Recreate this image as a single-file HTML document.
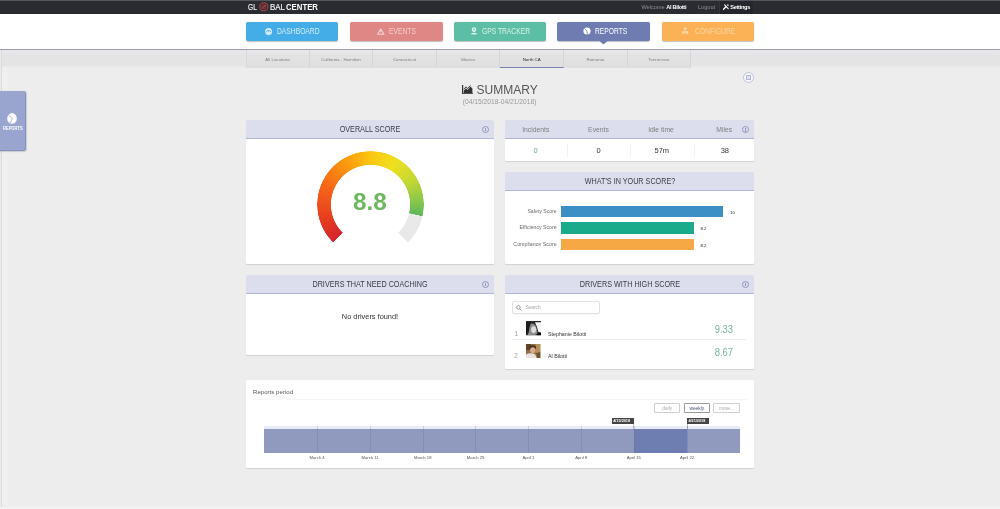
<!DOCTYPE html>
<html>
<head>
<meta charset="utf-8">
<title>Global Center - Summary</title>
<style>
*{box-sizing:border-box;margin:0;padding:0}
html,body{width:1000px;height:509px;overflow:hidden;background:#ededed;font-family:"Liberation Sans",sans-serif;color:#444}
.abs{position:absolute}
#page{position:relative;width:1000px;height:509px;overflow:hidden;background:#ededed;will-change:transform}
.t{position:absolute;white-space:nowrap;line-height:1}
.c{transform:translateX(-50%)}
.r{transform:translateX(-100%)}
/* top bar */
#topbar{left:0;top:0;width:1000px;height:14px;background:#2a2c32;border-top:1px solid #55575c}
#navwrap{left:0;top:14px;width:1000px;height:35px;background:#fff}
#navline{left:0;top:48.5px;width:1000px;height:1px;background:#9d9eb2}
.btn{position:absolute;top:21.5px;height:19.5px;border-radius:2px;box-shadow:0 0.5px 1px rgba(0,0,0,.25)}
.btn .t{top:6px;font-size:8.2px;color:#fff;transform:scaleX(.82);transform-origin:0 50%}
#tabsbar{left:0;top:49.5px;width:1000px;height:17.5px;background:linear-gradient(#e8e8ec,#e5e5e5 25%,#e4e4e4 85%,#e9e9e9)}
.tab{position:absolute;top:49.5px;height:18px;width:63.6px;border-right:1px solid #d6d6d6;background:linear-gradient(#e8e8ea,#e3e3e3 30%,#dfdfdf)}
.tab .t{left:50%;top:8.3px;font-size:4.4px;color:#808080}
/* panels */
.panel{position:absolute;background:#fff;border-radius:1.5px;box-shadow:0 0.5px 1px rgba(0,0,0,.13),0 0 2px rgba(255,255,255,.5)}
.phead{position:absolute;left:0;top:0;right:0;height:19px;background:#dcdeed;border-bottom:1px solid #b0b5d3;border-radius:1.5px 1.5px 0 0}
.phead .t{left:50%;top:5.4px;font-size:8.3px;color:#3b3b45;transform:translateX(-50%) scaleX(.87)}
.info{position:absolute;width:7px;height:7px;border:0.7px solid #9298bd;border-radius:50%}
.info:before{content:"";position:absolute;left:2.3px;top:2.4px;width:0.8px;height:2.4px;background:#9298bd}
.info:after{content:"";position:absolute;left:2.3px;top:1px;width:0.8px;height:0.8px;background:#9298bd}
.lg{top:2.7px;font-size:9.2px;color:#f0f0f0;transform-origin:0 50%;-webkit-text-stroke:0.2px #f0f0f0}
#lg1{transform:scaleX(.72)}#lg2{transform:scaleX(.865)}#lg3{transform:scaleX(.845);-webkit-text-stroke:0}
</style>
</head>
<body>
<div id="page">
  <!-- top bar -->
  <div class="abs" id="topbar"></div>
  <div class="abs" id="navwrap"></div>
  <div class="abs" id="navline"></div>
  <div class="abs" id="tabsbar"></div>

  <!-- logo -->
  <div class="t lg" id="lg1" style="left:248px">GL</div>
  <div class="t lg" id="lg2" style="left:270.2px">BAL</div>
  <div class="t lg" id="lg3" style="left:285.8px;font-weight:bold;color:#fff">CENTER</div>
  <svg class="abs" style="left:259.4px;top:2px" width="9.6" height="9.6" viewBox="0 0 9.6 9.6"><circle cx="4.8" cy="4.8" r="4.1" fill="#54292d" stroke="#a5464c" stroke-width="1"/><path d="M2.6 6.8 L7 2.8" stroke="#b8666a" stroke-width="0.8"/><circle cx="4.8" cy="4.8" r="1.9" fill="none" stroke="#96454a" stroke-width="0.6"/></svg>
  <!-- top right -->
  <div class="t" id="welcome" style="left:641.4px;top:5.2px;font-size:5.6px;color:#8d8f96">Welcome <b style="color:#fff;letter-spacing:-0.3px">Al Bilotti</b></div>
  <div class="t" id="logout" style="left:698px;top:5.2px;font-size:5.6px;color:#8d8f96">Logout</div>
  <div class="abs" style="left:719px;top:1px;width:34.4px;height:13px;background:#24262b;border-left:1px solid #34363c"></div>
  <svg class="abs" style="left:722.8px;top:4.4px" width="6" height="5.6" viewBox="0 0 6 5.6"><path d="M0.5 5.2 L3 2.8" stroke="#fff" stroke-width="1.3" stroke-linecap="round"/><path d="M1.6 0.8 L5.2 4.6" stroke="#fff" stroke-width="1.1" stroke-linecap="round"/><path d="M3.6 0.4 L5.6 0.6 L5.2 2.4 Z" fill="#fff"/></svg>
  <div class="t" id="settings" style="left:730.3px;top:5.2px;font-size:5.6px;color:#fff;font-weight:bold;letter-spacing:-0.3px">Settings</div>

  <!-- nav buttons -->
  <div class="btn" style="left:246px;width:92px;background:#44ade7">
    <svg class="abs" style="left:18.8px;top:6.2px" width="7.2" height="7.2" viewBox="0 0 8 8"><circle cx="4" cy="4" r="3.9" fill="#d3ecfa"/><path d="M1.3 4.8 A2.8 2.8 0 0 1 6.7 4.8" fill="none" stroke="#44ade7" stroke-width="0.8"/><path d="M4 2.2V4.6" stroke="#44ade7" stroke-width="0.7"/></svg>
    <div class="t" style="left:31.2px;color:#d6edfa">DASHBOARD</div></div>
  <div class="btn" style="left:350px;width:93px;background:#de8784">
    <svg class="abs" style="left:27px;top:6.2px" width="7.5" height="7" viewBox="0 0 8 7"><path d="M4 0.8 L7.4 6.4 H0.6 Z" fill="none" stroke="#f4d3d1" stroke-width="1.2" stroke-linejoin="round"/><path d="M4 2.8V4.6" stroke="#f4d3d1" stroke-width="0.8"/></svg>
    <div class="t" style="left:38.8px;color:#f3cfcd">EVENTS</div></div>
  <div class="btn" style="left:454px;width:92px;background:#5cbfa5">
    <svg class="abs" style="left:17px;top:5.8px" width="6" height="7.6" viewBox="0 0 6 7.6"><path d="M3 0.2 A2.3 2.3 0 0 1 5.3 2.5 Q5.3 3.8 3 5.4 Q0.7 3.8 0.7 2.5 A2.3 2.3 0 0 1 3 0.2Z" fill="#e0f4ed"/><circle cx="3" cy="2.4" r="0.8" fill="#5cbfa5"/><rect x="0.4" y="6" width="5.2" height="1.4" fill="#e0f4ed"/></svg>
    <div class="t" style="left:28.4px;color:#dbf2ea">GPS TRACKER</div></div>
  <div class="btn" style="left:557px;width:93px;background:#6e7cb2">
    <svg class="abs" style="left:25.5px;top:5.8px" width="8" height="8" viewBox="0 0 8 8"><circle cx="4" cy="4" r="3.6" fill="#fff"/><path d="M4 4 L1.4 1.6 M4 4 L4.4 7.6" stroke="#6e7cb2" stroke-width="0.8"/></svg>
    <div class="t" style="left:37.5px;color:#fff">REPORTS</div></div>
  <svg class="abs" style="left:599px;top:41px" width="9" height="4" viewBox="0 0 9 4"><path d="M0.5 0H8.5L4.5 3.6Z" fill="#6e7cb2"/></svg>
  <div class="btn" style="left:662px;width:92px;background:#fbb156">
    <svg class="abs" style="left:20.4px;top:5.8px" width="6.4" height="7.2" viewBox="0 0 6.4 7.2"><circle cx="3.2" cy="1.7" r="1.5" fill="#fdd9aa"/><circle cx="1.5" cy="5.5" r="1.4" fill="#fdd9aa"/><circle cx="4.9" cy="5.5" r="1.4" fill="#fdd9aa"/><path d="M3.2 2V4L1.5 5.5M3.2 4L4.9 5.5" stroke="#fdd9aa" stroke-width="0.6" fill="none"/></svg>
    <div class="t" style="left:32.7px;color:#fdd6a4">CONFIGURE</div></div>

  <!-- tabs -->
  <div class="tab" style="left:246px;border-left:1px solid #d9d9d9"><div class="t c">All Locations</div></div>
  <div class="tab" style="left:309.6px"><div class="t c">California - Hamilton</div></div>
  <div class="tab" style="left:373.2px"><div class="t c">Connecticut</div></div>
  <div class="tab" style="left:436.8px"><div class="t c">Mexico</div></div>
  <div class="tab" style="left:500.4px;border-bottom:1.2px solid #7781ae"><div class="t c" style="color:#2d2d2d">North CA</div></div>
  <div class="tab" style="left:564px"><div class="t c">Romania</div></div>
  <div class="tab" style="left:627.6px"><div class="t c">Tennessee</div></div>

  <!-- page side borders -->
  <div class="abs" style="left:0;top:50px;width:1px;height:459px;background:#ebebeb"></div>
  <div class="abs" style="left:1px;top:50px;width:1px;height:459px;background:#dadada"></div>
  <div class="abs" style="left:2px;top:67px;width:5px;height:442px;background:#efefef"></div>
  <div class="abs" style="left:0;top:507px;width:1000px;height:2px;background:#f2f2f2"></div>

  <!-- side tab -->
  <div class="abs" style="left:0;top:91px;width:26px;height:59.5px;background:#99a5cf;border-radius:0 3px 3px 0;border-right:1px solid #8692bf;border-bottom:1px solid #8692bf;box-shadow:0.5px 0.5px 1px rgba(0,0,0,.15)"></div>
  <svg class="abs" style="left:7.4px;top:113.4px" width="10" height="11" viewBox="0 0 10 11"><ellipse cx="5" cy="5.4" rx="4.8" ry="5.3" fill="#fff"/><path d="M1.4 1.8 L5.4 5.6 L2.8 10.4" fill="none" stroke="#99a5cf" stroke-width="0.8"/></svg>
  <div class="t" id="sidelbl" style="left:3px;top:127.3px;font-size:4.5px;font-weight:bold;color:#fff;transform:scaleX(.9);transform-origin:0 50%">REPORTS</div>

  <!-- title -->
  <svg class="abs" style="left:462px;top:84.6px" width="11" height="9.4" viewBox="0 0 11 9.4"><path d="M0.6 0V8.8H11" fill="none" stroke="#333" stroke-width="1.2"/><path d="M1.8 8.2V5.4L4 3.2L5.6 5L8.4 1.6L10.4 3.4V8.2Z" fill="#333"/><path d="M1.8 4.2L4 1.8L5.6 3.6L8.4 0.4" fill="none" stroke="#333" stroke-width="0.9"/></svg>
  <div class="t" id="title" style="left:476.6px;top:83.5px;font-size:12px;color:#555">SUMMARY</div>
  <div class="t" id="daterange" style="left:462.8px;top:99.2px;font-size:6.7px;color:#9a9a9a">(04/15/2018-04/21/2018)</div>

  <!-- export icon -->
  <div class="abs" style="left:743px;top:72px;width:11px;height:11px;border-radius:50%;border:1.2px solid #bfc3dc;background:#f7f7fb"></div>
  <div class="abs" style="left:746.2px;top:75.2px;width:4.6px;height:4.6px;border:0.8px solid #b3b8d6;background:#dfe1ee"></div>

  <!-- OVERALL SCORE -->
  <div class="panel" style="left:246px;top:120px;width:248px;height:144px">
    <div class="phead"><div class="t c">OVERALL SCORE</div><div class="info" style="left:236px;top:5.5px"></div></div>
    <div class="abs" id="gauge" style="left:70.8px;top:30.6px;width:107px;height:107px;border-radius:50%;
      background:conic-gradient(from 225deg,#d4252d 0deg,#e8401f 30deg,#f6631a 65deg,#fb9a0f 105deg,#fbc60f 135deg,#efe01e 165deg,#c3d834 195deg,#8cc74a 220deg,#5cb85c 237.6deg,#e9e9e9 237.8deg,#e9e9e9 270deg,transparent 270.1deg);
      -webkit-mask:radial-gradient(circle,transparent 39.2px,#000 39.9px,#000 53.1px,transparent 53.8px);mask:radial-gradient(circle,transparent 39.2px,#000 39.9px,#000 53.1px,transparent 53.8px)"></div>
    <div class="t" id="score" style="left:123.9px;top:71px;font-size:23.4px;font-weight:bold;color:#6db85f;transform:translateX(-50%) scaleX(1.04)">8.8</div>
  </div>

  <!-- STATS -->
  <div class="panel" style="left:505px;top:120px;width:249px;height:41px">
    <div class="phead"></div>
    <div class="t c st" style="left:30.8px;top:6.8px;font-size:6.8px;color:#808080">Incidents</div>
    <div class="t c st" style="left:93.5px;top:6.8px;font-size:6.8px;color:#808080">Events</div>
    <div class="t c st" style="left:156px;top:6.8px;font-size:6.8px;color:#808080">Idle time</div>
    <div class="t c st" style="left:219.2px;top:6.8px;font-size:6.8px;color:#808080">Miles</div>
    <div class="info" style="left:237px;top:5.8px"></div>
    <div class="t c" style="left:30.5px;top:26.6px;font-size:7.5px;color:#6aa896">0</div>
    <div class="t c" style="left:93.5px;top:26.6px;font-size:7.5px;color:#333">0</div>
    <div class="t c" style="left:156.8px;top:26.6px;font-size:7.5px;color:#333">57m</div>
    <div class="t c" style="left:219.8px;top:26.6px;font-size:7.5px;color:#333">38</div>
    <div class="abs" style="left:62px;top:24px;width:1px;height:13px;background:#f1f1f1"></div>
    <div class="abs" style="left:125px;top:24px;width:1px;height:13px;background:#f1f1f1"></div>
    <div class="abs" style="left:188.5px;top:24px;width:1px;height:13px;background:#f1f1f1"></div>
  </div>

  <!-- WHAT'S IN YOUR SCORE -->
  <div class="panel" style="left:505px;top:172px;width:249px;height:92px">
    <div class="phead"><div class="t c">WHAT'S IN YOUR SCORE?</div></div>
    <div class="abs" style="left:55.6px;top:33.5px;width:162.2px;height:11.4px;background:#3c8fc4"></div>
    <div class="abs" style="left:55.6px;top:50.2px;width:133px;height:11.4px;background:#1aab8a"></div>
    <div class="abs" style="left:55.6px;top:66.6px;width:133px;height:11.2px;background:#f6a845"></div>
    <div class="t r bl" style="left:51.6px;top:36.8px;font-size:5.1px;color:#6b6b6b">Safety Score</div>
    <div class="t r bl" style="left:51.6px;top:53.4px;font-size:5.2px;color:#6b6b6b">Efficiency Score</div>
    <div class="t r bl" style="left:51.6px;top:69.8px;font-size:5.3px;color:#6b6b6b">Compliance Score</div>
    <div class="t" style="left:225px;top:38.9px;font-size:4.4px;color:#222">10</div>
    <div class="t" style="left:195.4px;top:55.3px;font-size:4.4px;color:#222">8.2</div>
    <div class="t" style="left:195.4px;top:71.9px;font-size:4.4px;color:#222">8.2</div>
  </div>

  <!-- DRIVERS THAT NEED COACHING -->
  <div class="panel" style="left:246px;top:275px;width:248px;height:80px">
    <div class="phead"><div class="t c">DRIVERS THAT NEED COACHING</div><div class="info" style="left:236px;top:5.5px"></div></div>
    <div class="t c" style="left:124px;top:38.2px;font-size:7.4px;color:#333">No drivers found!</div>
  </div>

  <!-- DRIVERS WITH HIGH SCORE -->
  <div class="panel" style="left:505px;top:275px;width:249px;height:94px">
    <div class="phead"><div class="t c">DRIVERS WITH HIGH SCORE</div><div class="info" style="left:237px;top:5.5px"></div></div>
    <div class="abs" style="left:7px;top:26.4px;width:88px;height:13px;border:1px solid #e0e0e0;border-radius:2px;background:#fff;box-shadow:0 0.5px 0.5px rgba(0,0,0,.06)"></div>
    <svg class="abs" style="left:11px;top:30px" width="6" height="6" viewBox="0 0 6 6"><circle cx="2.4" cy="2.4" r="1.8" fill="none" stroke="#777" stroke-width="0.7"/><path d="M3.7 3.7L5.6 5.6" stroke="#777" stroke-width="0.8"/></svg>
    <div class="t" style="left:20.4px;top:31px;font-size:4.8px;color:#a5a5a5">Search</div>

    <div class="t" style="left:9.6px;top:56.3px;font-size:6.4px;color:#a0a0a0">1</div>
    <svg class="abs" style="left:21px;top:46.4px" width="15" height="14.6" viewBox="0 0 15 14.6">
      <defs><filter id="bl" x="-10%" y="-10%" width="120%" height="120%"><feGaussianBlur stdDeviation="0.6"/></filter><clipPath id="cp1"><rect width="15" height="14.6"/></clipPath></defs>
      <g clip-path="url(#cp1)"><g filter="url(#bl)">
      <rect width="15" height="14.6" fill="#f4f4f4"/>
      <path d="M0 0H15V1.2H9 L11 6 L12.4 11 L15 12 V14.6 H0Z" fill="#2a2a2a"/>
      <path d="M3 3 Q7 1.4 9.4 4 L11 9 L11.6 12.4 L8 14.6 H2 Q1 8 3 3Z" fill="#8c8c8c"/>
      <ellipse cx="7.6" cy="8.6" rx="2.5" ry="3.4" fill="#dcdcdc"/>
      <path d="M1 2 L5 1.6 L3.4 7 L2.6 12 L0 13 V2Z" fill="#1c1c1c"/>
      <path d="M11.6 11.6 H15 V14.6 H10.6Z" fill="#111"/>
      </g></g>
    </svg>
    <div class="t" style="left:43px;top:56.8px;font-size:5.3px;color:#333">Stephanie Bilotti</div>
    <div class="t sc" style="left:228px;top:49.2px;font-size:10.6px;color:#78b3a1">9.33</div>
    <div class="abs" style="left:7px;top:64.4px;width:234px;height:1px;background:#ececec"></div>

    <div class="t" style="left:9.2px;top:78.3px;font-size:6.4px;color:#a0a0a0">2</div>
    <svg class="abs" style="left:21px;top:69px" width="14.6" height="14.2" viewBox="0 0 14.6 14.2">
      <defs><clipPath id="cp2"><rect width="14.6" height="14.2"/></clipPath></defs>
      <g clip-path="url(#cp2)"><g filter="url(#bl)">
      <rect width="14.6" height="14.2" fill="#8f6e3f"/>
      <rect x="9.6" y="0" width="5" height="14.2" fill="#b39355"/>
      <rect x="0" y="0" width="5" height="6" fill="#5d4526"/>
      <ellipse cx="6.6" cy="3.6" rx="3.6" ry="2.4" fill="#4a3322"/>
      <ellipse cx="6.8" cy="6.2" rx="2.7" ry="3" fill="#dcaa90"/>
      <path d="M0 14.2 V10.4 Q3 8.6 6.4 9.6 Q9.6 9.4 10.6 14.2Z" fill="#ebe3dd"/>
      <path d="M10 9 L14.6 8 V14.2 H11Z" fill="#6f5330"/>
      </g></g>
    </svg>
    <div class="t" style="left:43px;top:79.4px;font-size:5.3px;color:#333">Al Bilotti</div>
    <div class="t sc" style="left:228px;top:71.5px;font-size:10.6px;color:#78b3a1">8.67</div>
  </div>

  <!-- REPORTS PERIOD -->
  <div class="panel" style="left:246px;top:380px;width:508px;height:87.6px">
    <div class="t" id="rp" style="left:7px;top:9px;font-size:6px;color:#555;letter-spacing:0.05px">Reports period</div>
    <div class="abs" style="left:7px;top:19px;width:494px;height:1px;background:#f6f6f6"></div>

    <div class="abs pb" style="left:408.4px;top:23px;width:25.6px;height:10.4px;border:1px solid #cfcfcf;border-radius:1px"></div>
    <div class="abs pb" style="left:437.7px;top:23px;width:26.3px;height:10.4px;border:1px solid #9a9a9a;border-radius:1px"></div>
    <div class="abs pb" style="left:467.3px;top:23px;width:26.4px;height:10.4px;border:1px solid #cfcfcf;border-radius:1px"></div>
    <div class="t c" style="left:421.2px;top:26.6px;font-size:4.8px;color:#aaa">daily</div>
    <div class="t c" style="left:450.8px;top:26.6px;font-size:4.8px;color:#4a5170">weekly</div>
    <div class="t c" style="left:480.5px;top:26.6px;font-size:4.8px;color:#aaa">more...</div>

    <!-- band -->
    <div class="abs" style="left:18.4px;top:46.2px;width:475.2px;height:3px;background:#e9ecf6"></div>
    <div class="abs" style="left:18.4px;top:49px;width:475.2px;height:23.6px;background:#8f9abe"></div>
    <div class="abs" style="left:387.6px;top:49px;width:53.6px;height:23.6px;background:#6f7eb1"></div>
    <div class="abs vl" style="left:70.8px"></div>
    <div class="abs vl" style="left:123.7px"></div>
    <div class="abs vl" style="left:176.5px"></div>
    <div class="abs vl" style="left:229.4px"></div>
    <div class="abs vl" style="left:282.2px"></div>
    <div class="abs vl" style="left:335px"></div>
    <div class="abs vl" style="left:387.6px"></div>
    <div class="abs vl" style="left:440.8px"></div>

    <!-- tags -->
    <div class="abs" style="left:366px;top:38px;width:22px;height:6px;background:#444"></div>
    <div class="abs" style="left:387.4px;top:38px;width:0.8px;height:11px;background:rgba(70,70,70,.35)"></div>
    <div class="t" style="left:367.2px;top:40.1px;font-size:3.8px;font-weight:bold;color:#fff">4/15/2018</div>
    <div class="abs" style="left:440.8px;top:38px;width:22px;height:6px;background:#444"></div>
    <div class="abs" style="left:440.8px;top:38px;width:0.8px;height:11px;background:rgba(70,70,70,.35)"></div>
    <div class="t" style="left:442.4px;top:40.1px;font-size:3.8px;font-weight:bold;color:#fff">4/21/2018</div>

    <!-- labels -->
    <div class="t c ax" style="left:71px">March 4</div>
    <div class="t c ax" style="left:124px">March 11</div>
    <div class="t c ax" style="left:176.8px">March 18</div>
    <div class="t c ax" style="left:229.6px">March 25</div>
    <div class="t c ax" style="left:282.4px">April 1</div>
    <div class="t c ax" style="left:335.2px">April 8</div>
    <div class="t c ax" style="left:387.8px">April 15</div>
    <div class="t c ax" style="left:441px">April 22</div>
  </div>
</div>
<style>
.vl{top:46.2px;width:0.8px;height:26.4px;background:rgba(90,100,150,.22)}
.sc{transform:translateX(-100%) scaleX(.89);transform-origin:100% 50%}
.ax{top:75.8px;font-size:4.2px;color:#555}
</style>
</body>
</html>
